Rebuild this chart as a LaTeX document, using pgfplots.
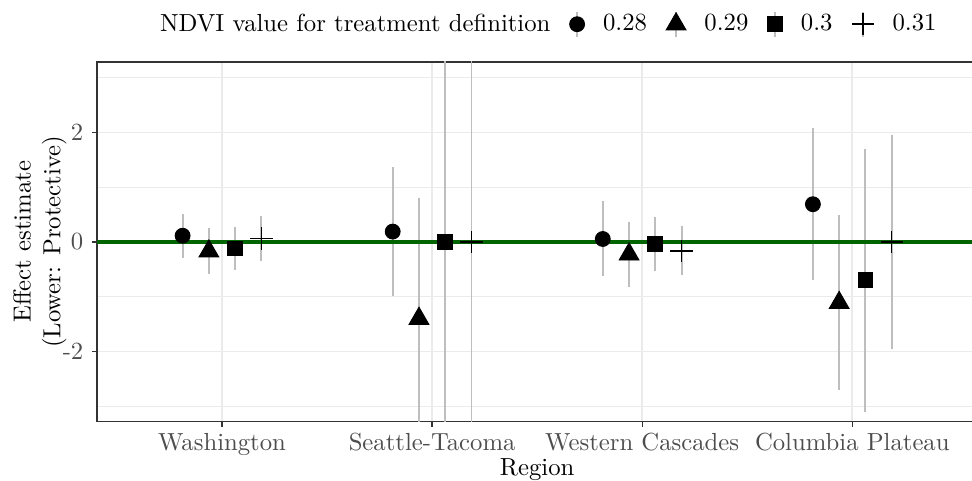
\documentclass[border=0pt]{standalone}
\usepackage{pgfplots}
\pgfplotsset{compat=1.18}
\usepackage{pgfplotstable}

\definecolor{gridgray}{HTML}{EBEBEB}
\definecolor{bargray}{HTML}{BEBEBE}
\definecolor{gray20}{HTML}{333333}
\definecolor{gray30}{HTML}{4D4D4D}
\definecolor{ggdarkgreen}{HTML}{006400}

% x = region index + dodge offset, y = estimate, err = half-width of interval
\pgfplotstableread{
x      y      err
0.8125 0.115  0.405
1.8125 0.19   1.18
2.8125 0.055  0.685
3.8125 0.69   1.385
}\ndviA
\pgfplotstableread{
x      y      err
0.9375 -0.17  0.42
1.9375 -1.40  2.20
2.9375 -0.225 0.59
3.9375 -1.11  1.60
}\ndviB
\pgfplotstableread{
x      y      err
1.0625 -0.12  0.40
2.0625 0.0    10
3.0625 -0.035 0.50
4.0625 -0.70  2.40
}\ndviC
\pgfplotstableread{
x      y      err
1.1875 0.065  0.405
2.1875 0.0    10
3.1875 -0.16  0.45
4.1875 0.0    1.955
}\ndviD

\pgfplotsset{
  ranges/.style={forget plot, draw=none, mark=none,
    error bars/.cd, y dir=both, y explicit, error mark=none,
    error bar style={draw=bargray, line width=0.8pt, solid}},
  ptrange legend/.style={legend image code/.code={
    \draw[bargray, line width=0.8pt] (0pt,-5pt) -- (0pt,5pt);
    \draw[##1] plot[only marks] coordinates {(0pt,0pt)};}},
}

\begin{document}
\begin{tikzpicture}
\begin{axis}[
  scale only axis,
  width=356.4pt, height=145.63pt,
  xmin=0.405, xmax=4.595, ymin=-3.282, ymax=3.288,
  xtick={1,2,3,4},
  xticklabels={Washington,Seattle-Tacoma,Western Cascades,Columbia Plateau},
  ytick={-2,0,2}, yticklabels={-2,0,2},
  minor ytick={-3,-1,1,3},
  grid=both,
  major grid style={gridgray, line width=0.75pt},
  minor grid style={gridgray, line width=0.4pt},
  axis line style={gray20, line width=0.5pt},
  tick style={gray20, line width=0.5pt},
  major tick length=2pt, minor tick length=0pt,
  tick align=outside, tick pos=left,
  ticklabel style={gray30, font=\normalsize},
  xticklabel style={yshift=1pt},
  xlabel={Region},
  xlabel style={at={(axis description cs:0.5,0)}, anchor=base, yshift=-21.6pt},
  ylabel={Effect estimate\\(Lower: Protective)},
  ylabel style={at={(axis description cs:-0.0648,0.5)}, anchor=center, align=center},
  legend columns=-1,
  legend style={draw=none, fill=none, at={(0.505,1.105)}, anchor=center,
    font=\normalsize, text=black,
    /tikz/every odd column/.append style={column sep=5.5pt},
    /tikz/every even column/.append style={column sep=5.8pt}},
]
\addplot[ranges] table[x=x, y=y, y error=err] {\ndviA};
\addplot[ranges] table[x=x, y=y, y error=err] {\ndviB};
\addplot[ranges] table[x=x, y=y, y error=err] {\ndviC};
\addplot[ranges] table[x=x, y=y, y error=err] {\ndviD};

\addplot[forget plot, ggdarkgreen, line width=1.3pt] coordinates {(0.405,0) (4.595,0)};

\addlegendimage{empty legend}
\addlegendentry{NDVI value for treatment definition}

\addplot[only marks, black, mark=*, mark size=3pt, ptrange legend] table[x=x, y=y] {\ndviA};
\addlegendentry{0.28}
\addplot[only marks, black, mark=triangle*, mark size=4.6pt, ptrange legend] table[x=x, y=y] {\ndviB};
\addlegendentry{0.29}
\addplot[only marks, black, mark=square*, mark size=3pt, ptrange legend] table[x=x, y=y] {\ndviC};
\addlegendentry{0.3}
\addplot[only marks, black, mark=+, mark size=4.5pt, line width=0.6pt, ptrange legend] table[x=x, y=y] {\ndviD};
\addlegendentry{0.31}
\end{axis}
\pgfresetboundingbox
\path ([xshift=-39.27pt, yshift=-24.0pt]current axis.south west)
  rectangle ([xshift=-2.15pt, yshift=25.1pt]current axis.north east);
\end{tikzpicture}
\end{document}
